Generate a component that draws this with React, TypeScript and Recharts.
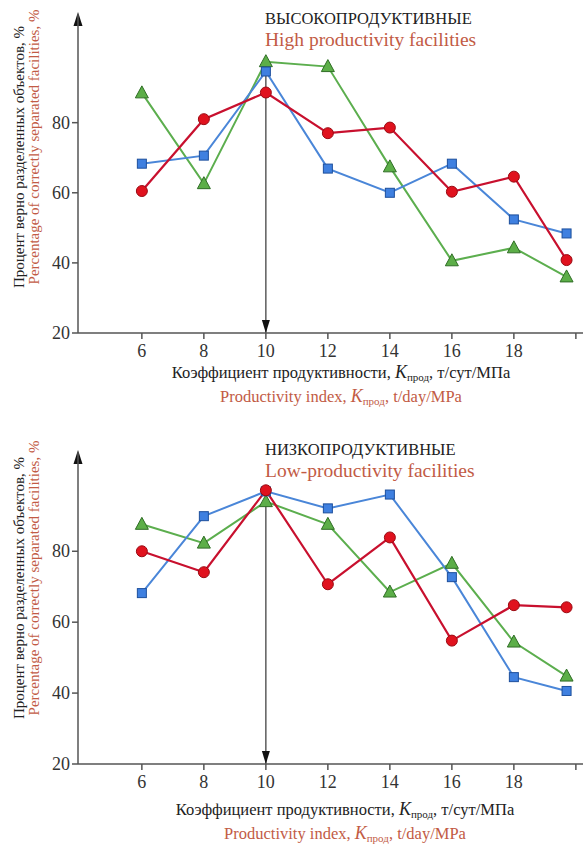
import React from "react";
import { LineChart, Line, XAxis, YAxis, ReferenceLine } from "recharts";

// productivity index, t/day/MPa
const productivity = [6, 8, 10, 12, 14, 16, 18, 19.7];
const xTicks = [6, 8, 10, 12, 14, 16, 18, 20];
const yTicks = [20, 40, 60, 80];

// high productivity facilities
const highRed = [60.5, 81, 88.6, 77, 78.6, 60.3, 64.6, 40.8];
const highBlue = [68.3, 70.6, 94.6, 66.9, 60, 68.3, 52.4, 48.4];
const highGreen = [88.5, 62.6, 97.4, 96, 67.4, 40.6, 44.3, 36];

// low productivity facilities
const lowRed = [80, 74.1, 97.2, 70.7, 83.9, 54.8, 64.8, 64.2];
const lowBlue = [68.2, 89.9, 96.9, 92.1, 96, 72.7, 44.5, 40.6];
const lowGreen = [87.6, 82.3, 94, 87.6, 68.5, 76.6, 54.4, 44.8];

const SERIF = "'Liberation Serif', 'DejaVu Serif', serif";
const AXIS = "#555";
const BROWN = "#c25b45";
const X_MIN = 3.94;
const X_MAX = 20.23;

const circleDot = (p: any) => (
  <circle key={`c${p.index}`} cx={p.cx} cy={p.cy} r={5.5} fill="#e0121e" stroke="#9a0a12" strokeWidth={1} />
);
const squareDot = (p: any) => (
  <rect key={`s${p.index}`} x={p.cx - 4.5} y={p.cy - 4.5} width={9} height={9} fill="#3f80e0" stroke="#1d4f9c" strokeWidth={1} />
);
const triDot = (p: any) => (
  <polygon
    key={`t${p.index}`}
    points={`${p.cx},${p.cy - 7} ${p.cx - 6.5},${p.cy + 5} ${p.cx + 6.5},${p.cy + 5}`}
    fill="#5cae48"
    stroke="#2f6d25"
    strokeWidth={1}
  />
);

const downArrow = (props: any) => {
  const { x1, y1, x2, y2 } = props;
  return (
    <g>
      <line x1={x1} y1={y1} x2={x2} y2={y2} stroke="#444" strokeWidth={1.3} />
      <polygon points={`${x2 - 4},${y2 - 13} ${x2 + 4},${y2 - 13} ${x2},${y2}`} fill="#111" />
    </g>
  );
};

const upArrow = (props: any) => {
  const { x2, y2 } = props;
  return <polygon points={`${x2 - 4.5},${y2 + 12} ${x2 + 4.5},${y2 + 12} ${x2},${y2 - 2}`} fill="#111" />;
};

// tick label in serif, drawn by hand so the font is certain
const SerifTick = (props: any) => {
  const { x, y, payload, textAnchor, verticalAnchor, hide20 } = props;
  const v = payload.value;
  if (hide20 && v === 20) return null;
  const dy = verticalAnchor === "start" ? 15 : 6;
  return (
    <text x={x} y={y} dy={dy} textAnchor={textAnchor} fontFamily={SERIF} fontSize={18} fill="#333">
      {v}
    </text>
  );
};

interface PanelProps {
  red: number[];
  blue: number[];
  green: number[];
  titleRu: string;
  titleEn: string;
  yMax: number;
  marginTop: number;
  marginBottom: number;
  titleY: number;
  yLabelY: number;
  xLabelY: number;
  xLabelCx: number;
}

function Panel(p: PanelProps) {
  const data = productivity.map((x, i) => ({ x, red: p.red[i], blue: p.blue[i], green: p.green[i] }));
  const peak = Math.max(p.red[2], p.blue[2], p.green[2]);
  return (
    <div style={{ position: "relative", width: 583, height: 422, fontFamily: SERIF }}>
      <LineChart
        width={583}
        height={422}
        data={data}
        margin={{ top: p.marginTop, right: 0, bottom: p.marginBottom, left: 48 }}
        style={{ fontFamily: SERIF }}
      >
        <XAxis
          dataKey="x"
          type="number"
          domain={[X_MIN, X_MAX]}
          ticks={xTicks}
          allowDataOverflow
          height={30}
          stroke={AXIS}
          strokeWidth={1.5}
          tickSize={6}
          tickMargin={3}
          tick={<SerifTick hide20 />}
        />
        <YAxis
          type="number"
          domain={[20, p.yMax]}
          ticks={yTicks}
          width={30}
          stroke={AXIS}
          strokeWidth={1.5}
          tickSize={6}
          tickMargin={2}
          tick={<SerifTick />}
        />
        <ReferenceLine
          segment={[{ x: X_MIN, y: 20 }, { x: X_MIN, y: p.yMax }]}
          ifOverflow="visible"
          shape={upArrow}
        />
        <ReferenceLine
          segment={[{ x: 10, y: peak }, { x: 10, y: 20 }]}
          ifOverflow="visible"
          shape={downArrow}
        />
        <Line dataKey="green" stroke="#5cae4e" strokeWidth={2} dot={triDot} isAnimationActive={false} />
        <Line dataKey="blue" stroke="#4a86d8" strokeWidth={2} dot={squareDot} isAnimationActive={false} />
        <Line dataKey="red" stroke="#c8102e" strokeWidth={2.2} dot={circleDot} isAnimationActive={false} />
      </LineChart>
      <svg
        width={583}
        height={422}
        style={{ position: "absolute", left: 0, top: 0, pointerEvents: "none", fontFamily: SERIF }}
      >
        <text x={265} y={p.titleY} fontSize={16.5} fill="#222">{p.titleRu}</text>
        <text x={265} y={p.titleY + 22} fontSize={19.5} fill={BROWN}>{p.titleEn}</text>
        <text transform={`translate(24,${p.yLabelY}) rotate(-90)`} textAnchor="middle" fontSize={15} fill="#222">
          Процент верно разделенных объектов, %
        </text>
        <text transform={`translate(39,${p.yLabelY - 10}) rotate(-90)`} textAnchor="middle" fontSize={15} fill={BROWN}>
          Percentage of correctly separated facilities, %
        </text>
        <text x={p.xLabelCx} y={p.xLabelY} textAnchor="middle" fontSize={16.5} fill="#222">
          Коэффициент продуктивности, <tspan fontStyle="italic" fontSize={18}>K</tspan>
          <tspan fontSize={11} dy={3}>прод</tspan>
          <tspan dy={-3}>, т/сут/МПа</tspan>
        </text>
        <text x={p.xLabelCx} y={p.xLabelY + 24} textAnchor="middle" fontSize={16.5} fill={BROWN}>
          Productivity index, <tspan fontStyle="italic" fontSize={18}>K</tspan>
          <tspan fontSize={11} dy={3}>прод</tspan>
          <tspan dy={-3}>, t/day/MPa</tspan>
        </text>
      </svg>
    </div>
  );
}

export default function App() {
  return (
    <div style={{ width: 583, height: 844, background: "#fff" }}>
      <style>{`body{margin:0;}`}</style>
      <Panel
        red={highRed}
        blue={highBlue}
        green={highGreen}
        titleRu="ВЫСОКОПРОДУКТИВНЫЕ"
        titleEn="High productivity facilities"
        yMax={111}
        marginTop={14}
        marginBottom={59}
        titleY={24}
        yLabelY={157}
        xLabelY={378}
        xLabelCx={341}
      />
      <Panel
        red={lowRed}
        blue={lowBlue}
        green={lowGreen}
        titleRu="НИЗКОПРОДУКТИВНЫЕ"
        titleEn="Low-productivity facilities"
        yMax={108}
        marginTop={30}
        marginBottom={50}
        titleY={33}
        yLabelY={166}
        xLabelY={393}
        xLabelCx={345}
      />
    </div>
  );
}
